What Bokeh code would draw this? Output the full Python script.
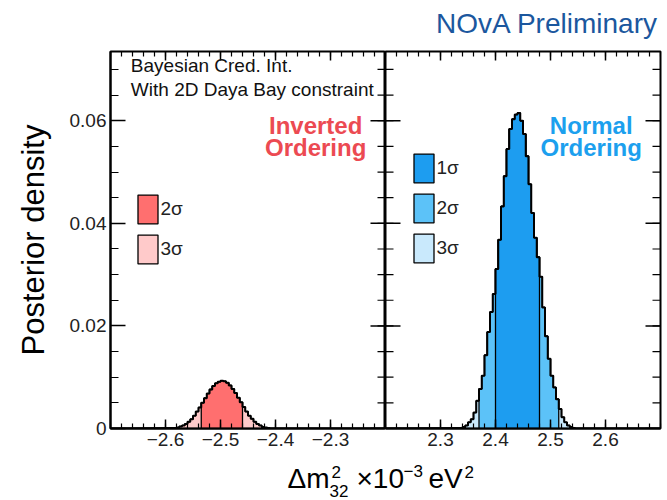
import numpy as np
from bokeh.plotting import figure
from bokeh.layouts import column, row
from bokeh.models import (Range1d, LinearAxis, FixedTicker, Label, Legend,
                          LegendItem, CustomJSTickFormatter)
from bokeh.embed import file_html
from bokeh.resources import INLINE

# ---- posterior density per 0.005-wide bin of dm2_32 (units of 1e-3 eV^2) ----
BIN_W = 0.005

IO_FIRST_EDGE = -2.585
IO_POSTERIOR = [0.0001, 0.0002, 0.0004, 0.0006, 0.0009, 0.0013, 0.0018, 0.0025,
                0.0033, 0.0041, 0.0050, 0.0059, 0.0068, 0.0076, 0.0083, 0.0088,
                0.0091, 0.0093, 0.0092, 0.0089, 0.0084, 0.0077, 0.0069, 0.0060,
                0.0051, 0.0042, 0.0033, 0.0025, 0.0019, 0.0013, 0.0009, 0.0006,
                0.0003, 0.0002, 0.0001]

NO_FIRST_EDGE = 2.335
NO_POSTERIOR = [0.0001, 0.0003, 0.0006, 0.0012, 0.0018, 0.0031, 0.0054, 0.0077,
                0.0103, 0.0143, 0.0188, 0.0227, 0.0262, 0.0311, 0.0368, 0.0433,
                0.0492, 0.0545, 0.0584, 0.0603, 0.0612, 0.0615, 0.0600, 0.0574,
                0.0531, 0.0476, 0.0420, 0.0372, 0.0334, 0.0296, 0.0236, 0.0180,
                0.0136, 0.0103, 0.0080, 0.0057, 0.0038, 0.0022, 0.0012, 0.0006,
                0.0003, 0.0001]

# credible intervals (lower edge, upper edge)
IO_BANDS = [("3σ", -2.575, -2.425), ("2σ", -2.535, -2.46)]
NO_BANDS = [("3σ", 2.345, 2.535), ("2σ", 2.37, 2.515), ("1σ", 2.40, 2.48)]

IO_RANGE = (-2.7, -2.2)
NO_RANGE = (2.2, 2.7)
Y_MAX = 0.0735

IO_TICKS = [-2.6, -2.5, -2.4, -2.3]
NO_TICKS = [2.3, 2.4, 2.5, 2.6]
Y_TICKS = [0.0, 0.02, 0.04, 0.06]
X_MINOR_STEP = 0.02
Y_MINOR_STEP = 0.005

FONT = "Liberation Sans"

IO_COLORS = {"2σ": "#FF6F6F", "3σ": "#FFCACA"}
NO_COLORS = {"1σ": "#1D9DF0", "2σ": "#5CC2F8", "3σ": "#C9E9FC"}
IO_TEXT = "#EC4A52"
NO_TEXT = "#1CA0EE"
NOVA_BLUE = "#1B579E"

W = 667
H_HEAD = 49
H_PANEL = 399
H_FOOT = 500 - H_HEAD - H_PANEL
FRAME_W = 275
FRAME_H = 375
X_MAJOR_LEN, X_MINOR_LEN = 9, 5
Y_MAJOR_LEN, Y_MINOR_LEN = 15, 8
MID = 0.35  # text-box middle above the baseline, in em


def bin_edges(first, values):
    return first + BIN_W * np.arange(len(values) + 1)


def band_shape(first, values, lo, hi):
    edges = bin_edges(first, values)
    xs, ys = [lo], [0.0]
    for a, b, v in zip(edges[:-1], edges[1:], values):
        if a >= lo - 1e-9 and b <= hi + 1e-9:
            xs += [a, b]
            ys += [v, v]
    xs.append(hi)
    ys.append(0.0)
    return xs, ys


def outline_shape(first, values, xr):
    edges = bin_edges(first, values)
    xs, ys = [xr[0]], [0.0]
    for a, b, v in zip(edges[:-1], edges[1:], values):
        xs += [a, b]
        ys += [v, v]
    xs += [edges[-1], xr[1]]
    ys += [0.0, 0.0]
    return xs, ys


def step_list(lo, hi, step):
    n = int(round((hi - lo) / step))
    return [round(lo + i * step, 6) for i in range(n + 1)]


def labelled_axis(p, side, ticks, minors, major_len, minor_len, fmt):
    ax = LinearAxis(ticker=FixedTicker(ticks=ticks, minor_ticks=minors), formatter=fmt)
    ax.axis_line_width = 2
    ax.axis_line_color = "black"
    ax.major_tick_in = major_len
    ax.major_tick_out = 0
    ax.minor_tick_in = minor_len
    ax.minor_tick_out = 0
    ax.major_tick_line_width = 1.5
    ax.minor_tick_line_width = 1.2
    ax.major_label_text_font = FONT
    ax.major_label_text_font_size = "19px"
    ax.major_label_text_color = "#222222"
    ax.major_label_standoff = 4
    p.add_layout(ax, side)
    return ax


def edge_ticks(p, xr, side, ticks, minors):
    """Inward tick marks on a frame edge that carries no labels."""
    px_x = (xr[1] - xr[0]) / FRAME_W
    px_y = Y_MAX / FRAME_H
    for vals, width, kind in ((ticks, 1.5, "major"), (minors, 1.2, "minor")):
        if side == "top":
            ln = (X_MAJOR_LEN if kind == "major" else X_MINOR_LEN) * px_y
            x0 = x1 = list(vals)
            y0 = [Y_MAX] * len(vals)
            y1 = [Y_MAX - ln] * len(vals)
        else:
            ln = (Y_MAJOR_LEN if kind == "major" else Y_MINOR_LEN) * px_x
            edge = xr[1] if side == "right" else xr[0]
            inner = edge - ln if side == "right" else edge + ln
            y0 = y1 = list(vals)
            x0 = [edge] * len(vals)
            x1 = [inner] * len(vals)
        p.segment(x0, y0, x1, y1, line_color="black", line_width=width)


def text(p, x, y, s, size, color="black", style="normal", align="left", px_y=1.0):
    """Place a text with its baseline at y (px_y converts pixels to y units)."""
    p.add_layout(Label(x=x, y=y + MID * size * px_y, text=s, text_font=FONT,
                       text_font_size=f"{size}px", text_color=color,
                       text_font_style=style, text_align=align, text_baseline="middle"))


def strip(height):
    """A plain text strip whose data units are pixels (y upward)."""
    s = figure(width=W, height=height, x_range=Range1d(0, W), y_range=Range1d(0, height),
               title=None, output_backend="svg", toolbar_location=None,
               x_axis_location=None, y_axis_location=None,
               min_border=0, outline_line_color=None)
    s.xgrid.visible = False
    s.ygrid.visible = False
    return s


x_fmt = CustomJSTickFormatter(code="return tick.toFixed(1).replace('-', '\u2212');")
y_fmt = CustomJSTickFormatter(code="return tick == 0 ? '0' : tick.toFixed(2);")
y_minors = step_list(0.0, 0.07, Y_MINOR_STEP)


def panel(xr, width, border_left, border_right, ticks, first, values, bands, colors,
          with_y_axis):
    p = figure(width=width, height=H_PANEL, x_range=Range1d(*xr), y_range=Range1d(0, Y_MAX),
               title=None, output_backend="svg", toolbar_location=None,
               x_axis_location=None, y_axis_location=None,
               min_border_left=border_left, min_border_right=border_right,
               min_border_top=2, min_border_bottom=0)
    p.xgrid.visible = False
    p.ygrid.visible = False
    p.outline_line_color = "black"
    p.outline_line_width = 2
    p.background_fill_color = "white"
    p.border_fill_color = "white"

    xm = step_list(xr[0], xr[1], X_MINOR_STEP)
    labelled_axis(p, "below", ticks, xm, X_MAJOR_LEN, X_MINOR_LEN, x_fmt)
    edge_ticks(p, xr, "top", ticks, xm)
    yl = None
    if with_y_axis:
        yl = labelled_axis(p, "left", Y_TICKS, y_minors, Y_MAJOR_LEN, Y_MINOR_LEN, y_fmt)
    else:
        edge_ticks(p, xr, "left", Y_TICKS, y_minors)
    edge_ticks(p, xr, "right", Y_TICKS, y_minors)

    renderers = {}
    for name, lo, hi in bands:
        xs, ys = band_shape(first, values, lo, hi)
        renderers[name] = p.patch(xs, ys, fill_color=colors[name], line_color="black",
                                  line_width=1.3)
    ox, oy = outline_shape(first, values, xr)
    p.line(ox, oy, line_color="black", line_width=2)
    return p, renderers, yl


left, io_r, yaxis = panel(IO_RANGE, 385, 110, 0, IO_TICKS, IO_FIRST_EDGE, IO_POSTERIOR,
                          IO_BANDS, IO_COLORS, True)
right, no_r, _ = panel(NO_RANGE, W - 385, 0, 7, NO_TICKS, NO_FIRST_EDGE, NO_POSTERIOR,
                       NO_BANDS, NO_COLORS, False)

yaxis.axis_label = "Posterior density"
yaxis.axis_label_text_font = FONT
yaxis.axis_label_text_font_size = "31px"
yaxis.axis_label_text_font_style = "normal"
yaxis.axis_label_text_color = "black"
yaxis.axis_label_standoff = 16


def legend(p, renderers, names, x, y):
    items = [LegendItem(label=n, renderers=[renderers[n]]) for n in names]
    lg = Legend(items=items, location=(x, y), orientation="vertical")
    lg.border_line_color = None
    lg.background_fill_alpha = 0
    lg.glyph_width = 25
    lg.glyph_height = 36
    lg.spacing = 4
    lg.padding = 0
    lg.margin = 0
    lg.label_standoff = 1
    lg.label_text_font = FONT
    lg.label_text_font_size = "19px"
    lg.label_text_color = "#222222"
    p.add_layout(lg)


legend(left, io_r, ["2σ", "3σ"], 24.5, 161.5)
legend(right, no_r, ["1σ", "2σ", "3σ"], 25.5, 162.5)

PY = Y_MAX / FRAME_H
text(left, -2.663, 0.0694, "Bayesian Cred. Int.", 19, "#111111", px_y=PY)
text(left, -2.663, 0.0648, "With 2D Daya Bay constraint", 19, "#111111", px_y=PY)
text(left, -2.327, 0.0575, "Inverted", 24, IO_TEXT, "bold", "center", px_y=PY)
text(left, -2.327, 0.0532, "Ordering", 24, IO_TEXT, "bold", "center", px_y=PY)
text(right, 2.574, 0.0575, "Normal", 24, NO_TEXT, "bold", "center", px_y=PY)
text(right, 2.574, 0.0532, "Ordering", 24, NO_TEXT, "bold", "center", px_y=PY)

# header strip with the experiment tag
head = strip(H_HEAD)
text(head, 658, H_HEAD - 33, "NOvA Preliminary", 28, NOVA_BLUE, align="right")

# footer strip with the x-axis title spanning both panels
foot = strip(H_FOOT)
base = 500 - 488
text(foot, 287, base, "Δm", 28)
text(foot, 331, base + 11, "2", 17)
text(foot, 329, base - 8, "32", 17)
text(foot, 356, base, "×10", 28)
text(foot, 403, base + 12, "−3", 17)
text(foot, 428, base, "eV", 28)
text(foot, 464, base + 11, "2", 17)

page = column(head, row(left, right), foot)
open("out.html", "w").write(file_html(page, INLINE))
